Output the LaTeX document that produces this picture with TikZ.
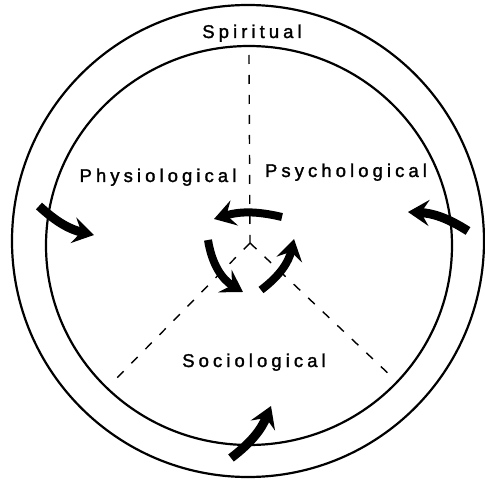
\documentclass[tikz,border=0pt]{standalone}
\usepackage{fontspec}
\usepackage{tikz}
\usetikzlibrary{arrows.meta}
\newfontfamily\labelfont[LetterSpace=22, FakeBold=1.6]{Liberation Sans}
\tikzset{
  ring/.style={line width=2.2pt},
  divider/.style={line width=1.4pt, dash pattern=on 9pt off 11pt},
  cyclearrow/.style={line width=8pt, -{Stealth[length=21pt, width=26pt, inset=8pt]}},
  aspect/.style={font=\labelfont\fontsize{18.5}{21}\selectfont, inner sep=0pt, anchor=base}
}

\begin{document}
\begin{tikzpicture}[x=1pt, y=1pt]
  \useasboundingbox (0,0) rectangle (485,480);
  % the two rings
  \draw[ring] (248,239) circle[radius=236];
  \draw[ring] (249,234.5) ellipse[x radius=203, y radius=199.5];

  % dividing lines
  \coordinate (hub) at (250,237);
  \coordinate (up) at (249,425);
  \coordinate (downleft) at (112,97);
  \coordinate (downright) at (392,103);
  \draw[divider] (up) -- (hub);
  \draw[divider] (hub) -- (downleft);
  \draw[divider] (hub) -- (downright);

  % labels
  \node[aspect] (spiritual) at (252,442) {Spiritual};
  \node[aspect] (physio) at (158,298) {Physiological};
  \node[aspect] (psycho) at (346,303) {Psychological};
  \node[aspect] (socio) at (254,113) {Sociological};

  % inner cycle
  \coordinate (c1s) at (282,263);
  \coordinate (c1e) at (214,261);
  \coordinate (c2s) at (208,240);
  \coordinate (c2e) at (243,188);
  \coordinate (c3s) at (261,190);
  \coordinate (c3e) at (294,241);
  \draw[cyclearrow] (c1s) to[bend right=15] (c1e);
  \draw[cyclearrow] (c2s) to[bend right=25] (c2e);
  \draw[cyclearrow] (c3s) to[bend right=20] (c3e);

  % exchange through the outer ring
  \coordinate (l1) at (39,274);
  \coordinate (l2) at (94,245);
  \coordinate (r1) at (468,249);
  \coordinate (r2) at (408,268);
  \coordinate (b1) at (231,22);
  \coordinate (b2) at (271,74);
  \draw[cyclearrow, line width=9pt] (l1) to[bend right=15] (l2);
  \draw[cyclearrow, line width=9pt] (r1) to[bend right=15] (r2);
  \draw[cyclearrow, line width=9pt] (b1) to[bend right=15] (b2);
\end{tikzpicture}
\end{document}
